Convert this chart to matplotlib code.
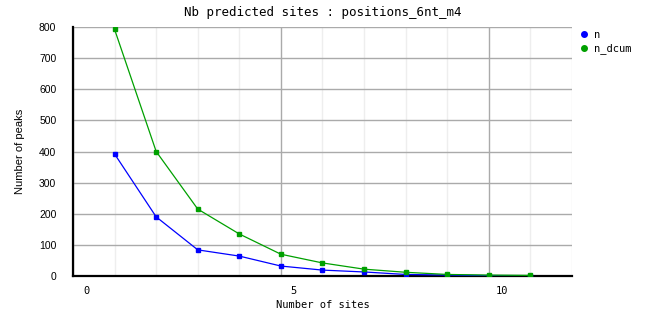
import numpy as np
import matplotlib
matplotlib.use("Agg")
import matplotlib.pyplot as plt
from matplotlib.transforms import ScaledTranslation

# data
sites = [1, 2, 3, 4, 5, 6, 7, 8, 9, 10, 11]
n = [392, 190, 84, 64, 32, 19, 13, 5, 3, 1, 0]
n_dcum = [792, 400, 215, 135, 70, 42, 22, 12, 5, 3, 2]

title = "Nb predicted sites : positions_6nt_m4"
mono = "DejaVu Sans Mono"
sans = "Liberation Sans"

fig = plt.figure(figsize=(6.62, 3.28), dpi=100)
ax = fig.add_axes([0.1103, 0.1585, 0.7537, 0.7592])

ax.plot(sites, n, color="#0000ff", lw=0.9, marker="s", ms=2.6, label="n", zorder=3)
ax.plot(sites, n_dcum, color="#00a000", lw=0.9, marker="s", ms=2.6, label="n_dcum", zorder=3)

ax.set_xlim(0, 12)
ax.set_ylim(0, 800)

# grid
ax.set_xticks(np.arange(0, 13, 1), minor=True)
ax.set_xticks([0, 5, 10])
ax.set_yticks(np.arange(0, 801, 100))
ax.grid(which="minor", axis="x", color="#eeeeee", lw=1)
ax.grid(which="major", axis="x", color="#aaaaaa", lw=1)
ax.grid(which="major", axis="y", color="#aaaaaa", lw=1)
ax.set_axisbelow(True)

for s in ["top", "right"]:
    ax.spines[s].set_visible(False)
for s in ["left", "bottom"]:
    ax.spines[s].set_linewidth(1.6)
    ax.spines[s].set_color("black")

ax.tick_params(which="both", length=0)
ax.tick_params(axis="y", pad=12, labelsize=7.5)
ax.tick_params(axis="x", pad=7, labelsize=7.5)
for lab in ax.get_yticklabels():
    lab.set_fontfamily(sans)
for lab in ax.get_xticklabels():
    lab.set_fontfamily(mono)
    lab.set_transform(lab.get_transform() + ScaledTranslation(13 / 100, 0, fig.dpi_scale_trans))

ax.set_title(title, fontsize=9, family=mono, pad=8)
ax.set_xlabel("Number of sites", fontsize=7.5, family=mono, labelpad=3)
ax.set_ylabel("Number of peaks", fontsize=8, family=sans, labelpad=10)

leg = ax.legend(loc="upper left", bbox_to_anchor=(1.01, 1.005), frameon=False,
                prop={"family": mono, "size": 7.5}, handlelength=0.6,
                handletextpad=0.6, labelspacing=0.35, borderaxespad=0)
for h in leg.legend_handles:
    h.set_linestyle("")
    h.set_marker("o")
    h.set_markersize(4)

fig.savefig("out.png", dpi=100)
